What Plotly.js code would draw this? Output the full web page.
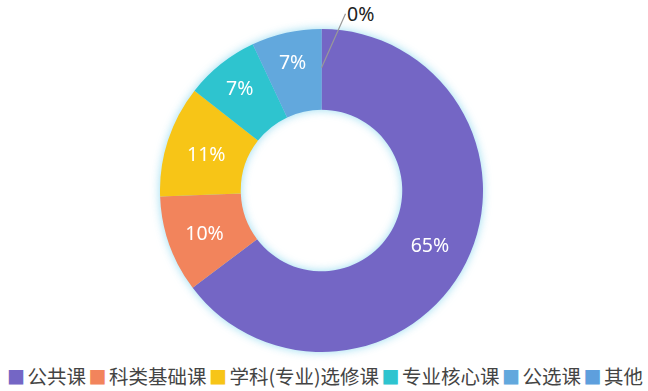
<!DOCTYPE html>
<html><head><meta charset="utf-8">
<script src="https://cdn.plot.ly/plotly-3.0.1.min.js"></script>
<style>
html,body{margin:0;padding:0;background:#fff}
#chart{width:648px;height:391px}
.pielayer{filter:drop-shadow(0 0 5px rgba(110,205,235,0.7));}
</style></head><body><div id="chart"></div>
<script>
const categories = ['公共课','科类基础课','学科(专业)选修课','专业核心课','公选课','其他'];
const values = [64.7, 9.7, 11.2, 7.4, 7.0, 0];
const percentLabels = ['65%','10%','11%','7%','7%','0%'];
const colors = ['#7466C5','#F2845C','#F7C517','#2EC4CF','#62A8DD','#5E9FDD'];

const W = 648, H = 391;
const margin = {l:0, r:5, t:28.5, b:38.5, pad:0};
const plotW = W - margin.l - margin.r, plotH = H - margin.t - margin.b;
const R = Math.min(plotW, plotH) / 2;

const total = values.reduce((a,b)=>a+b,0);
const textpos = values.map(v => v/total < 0.01 ? 'none' : 'inside');

const trace = {
  type:'pie',
  labels: categories,
  values: values,
  text: percentLabels,
  texttemplate: '%{text}',
  textposition: textpos,
  insidetextorientation:'horizontal',
  hole: 0.5,
  sort: false,
  direction: 'clockwise',
  rotation: 0,
  marker: {colors: colors, line:{width:0}},
  textfont: {family:'Noto Sans, sans-serif', size:19.5, color:'#ffffff'},
  showlegend: false,
  hoverinfo:'label+percent'
};

// outside label for tiny slices, anchored on the slice's mid-angle
const annotations = [];
let cum = 0;
values.forEach((v,i) => {
  const mid = (cum + v/2) / total;
  cum += v;
  if (v/total < 0.01) {
    const ang = mid * 2 * Math.PI;
    const r = 0.76 * R;
    annotations.push({
      xref:'paper', yref:'paper',
      x: 0.5 + r*Math.sin(ang)/plotW,
      y: 0.5 + r*Math.cos(ang)/plotH,
      text: percentLabels[i],
      showarrow:true, arrowhead:0, arrowwidth:1.2, arrowcolor:'#999999',
      ax: 24, ay: -54,
      xanchor:'left',
      font:{family:'Noto Sans, sans-serif', size:19.5, color:'#222222'}
    });
  }
});

// legend row built from the categories and colours
const gap = '<span style="font-size:11px"> </span>';
const legendText = categories.map((c,i) =>
  `<span style="color:${colors[i]};font-size:18px">■</span>${gap}${c}`).join(gap);
annotations.push({
  xref:'paper', yref:'paper', x: 325/plotW, y: (plotH - (376 - margin.t))/plotH,
  xanchor:'center', yanchor:'middle', showarrow:false,
  text: legendText,
  font:{family:'Noto Sans CJK SC, sans-serif', size:19.5, color:'#444444'}
});

const layout = {
  width: W, height: H,
  margin: margin,
  paper_bgcolor:'#ffffff', plot_bgcolor:'#ffffff',
  showlegend:false,
  annotations: annotations
};
Plotly.newPlot('chart', [trace], layout, {displayModeBar:false, staticPlot:true});
</script></body></html>
